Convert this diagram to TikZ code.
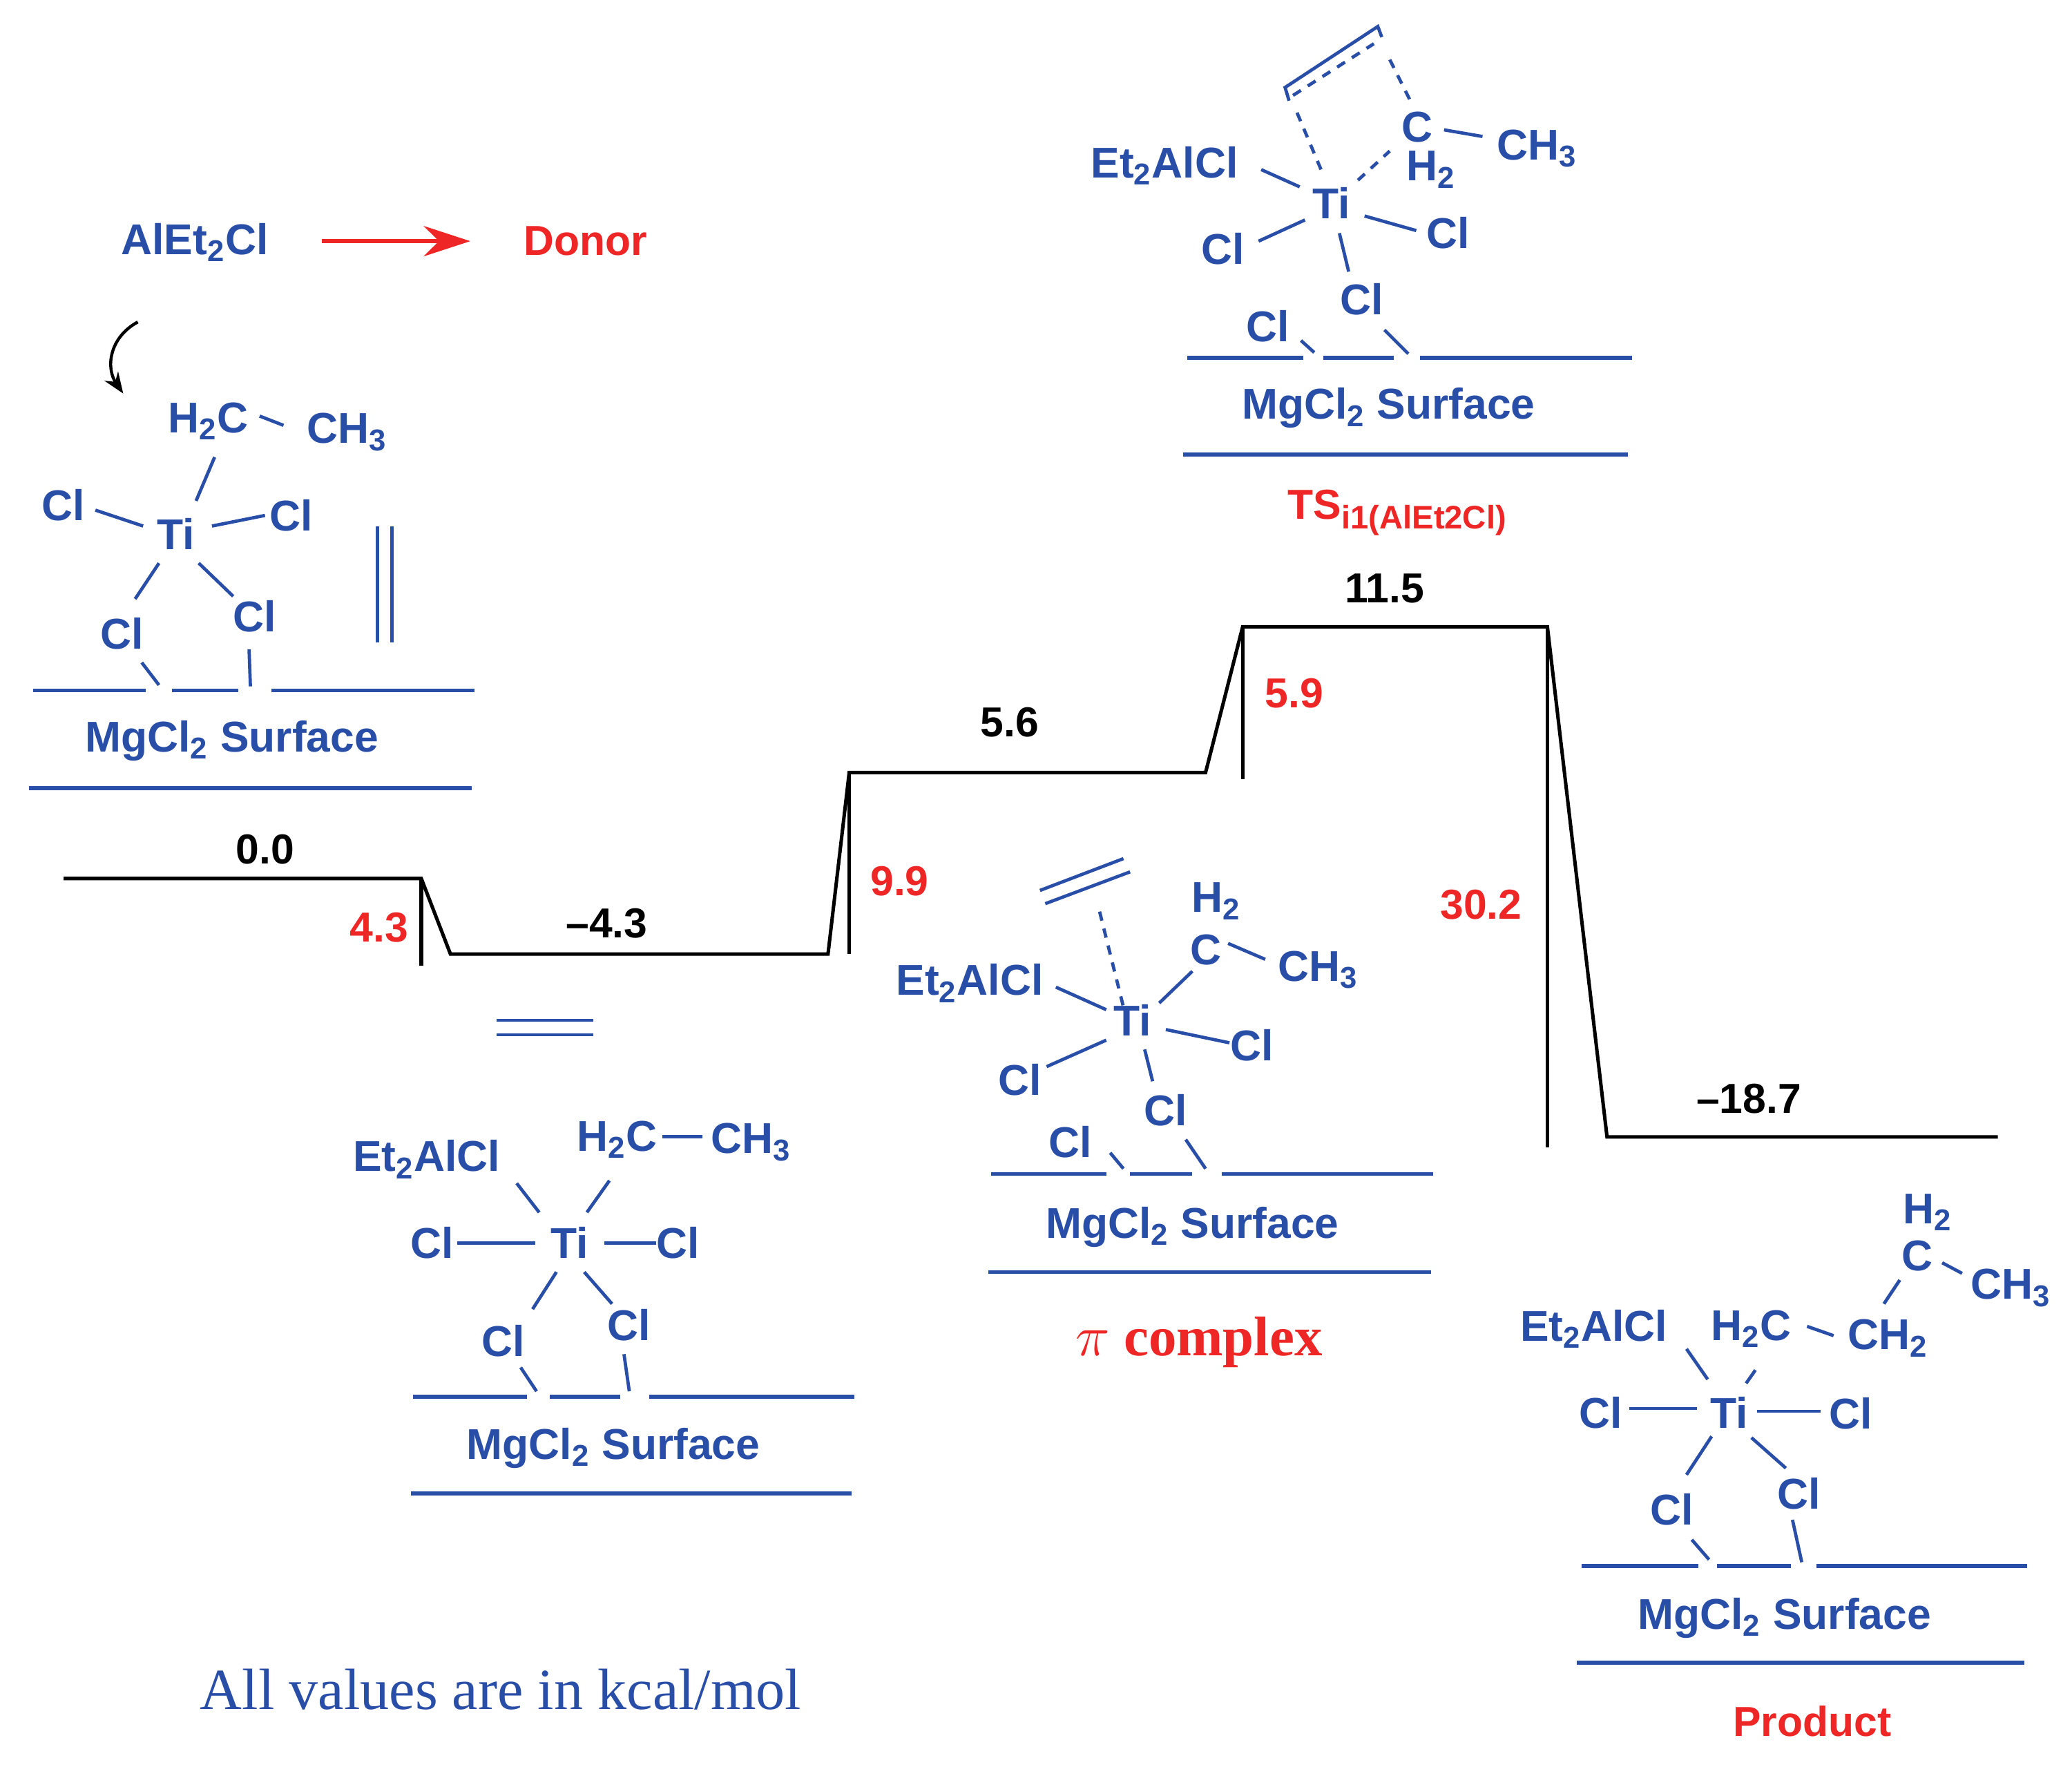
\documentclass[tikz,border=0pt]{standalone}
\usepackage{fontspec}
\setmainfont{Liberation Serif}
\setsansfont{Liberation Sans}
\usetikzlibrary{arrows.meta}
\definecolor{chemblue}{RGB}{40,78,168}
\definecolor{ered}{RGB}{238,38,38}
\newcommand{\chsub}[1]{\textsubscript{#1}}
\begin{document}
\begin{tikzpicture}[x=0.02cm,y=-0.02cm,
  chem/.style={font=\sffamily\bfseries\fontsize{18.5}{20}\selectfont,text=chemblue,inner sep=0pt},
  lab/.style={font=\sffamily\bfseries\fontsize{18}{20}\selectfont,text=black,inner sep=0pt},
  rlab/.style={font=\sffamily\bfseries\fontsize{18}{20}\selectfont,text=ered,inner sep=0pt},
  bond/.style={chemblue,line width=1.4pt},
  dbond/.style={chemblue,line width=1.4pt,dash pattern=on 4pt off 3.5pt},
  surf/.style={chemblue,line width=1.7pt},
  lev/.style={black,line width=1.5pt,line join=miter}]
\useasboundingbox (0,0) rectangle (1564,1333.5);
\fill[white] (0,0) rectangle (1564,1333.5);

% ---------- energy profile ----------
\coordinate (a0) at (48,663); \coordinate (a1) at (318,663);
\coordinate (b0) at (340,720); \coordinate (b1) at (625,720);
\coordinate (c0) at (641,583); \coordinate (c1) at (910,583);
\coordinate (d0) at (938,473); \coordinate (d1) at (1168,473);
\coordinate (e0) at (1213,858); \coordinate (e1) at (1508,858);
\coordinate (m1) at (318,729); \coordinate (m2) at (641,720);
\coordinate (m3) at (938,588); \coordinate (m4) at (1168,866);
\draw[lev] (a0) -- (a1) -- (b0) -- (b1) -- (c0) -- (c1) -- (d0) -- (d1) -- (e0) -- (e1);
\draw[lev] (a1) -- (m1); \draw[lev] (c0) -- (m2); \draw[lev] (d0) -- (m3); \draw[lev] (d1) -- (m4);
\node[lab] (l00) at (200,641) {0.0};
\node[rlab] (l43r) at (286,700) {4.3};
\node[lab] (l43) at (458,697) {--4.3};
\node[rlab] (l99) at (679,665) {9.9};
\node[lab] (l56) at (762,545) {5.6};
\node[rlab] (l59) at (977,523) {5.9};
\node[lab] (l115) at (1045,444) {11.5};
\node[rlab] (l302) at (1118,683) {30.2};
\node[lab] (l187) at (1320,829) {--18.7};

% ---------- top-left ----------
\node[chem] (alet) at (147,183) {AlEt\chsub{2}Cl};
\node[rlab] (donor) at (442,182) {Donor};
\draw[ered,line width=1.6pt,-{Stealth[length=20pt,width=13pt]}] (243,182) -- (355,182);
\draw[black,line width=1.3pt,-{Stealth[length=9pt,width=7pt]}] (104,243) .. controls (82,255) and (80,278) .. (93,297);

% ---------- structure 1 ----------
\node[chem] (s1h2c) at (157,318) {H\chsub{2}C};
\node[chem] (s1ch3) at (262,326) {CH\chsub{3}};
\draw[bond] (196,314) -- (214,321);
\node[chem] (s1ti) at (133,403) {Ti};
\node[chem] (s1cl1) at (48,381) {Cl};
\node[chem] (s1cl2) at (220,389) {Cl};
\node[chem] (s1cl3) at (92,478) {Cl};
\node[chem] (s1cl4) at (192,465) {Cl};
\draw[bond] (72,385) -- (108,397);
\draw[bond] (160,397) -- (200,389);
\draw[bond] (148,378) -- (162,345);
\draw[bond] (120,425) -- (102,452);
\draw[bond] (150,425) -- (176,450);
\draw[bond] (107,500) -- (120,517);
\draw[bond] (188,490) -- (189,518);
\draw[bond] (285,397) -- (285,485); \draw[bond] (296,397) -- (296,485);
\draw[surf] (25,521) -- (110,521) (130,521) -- (180,521) (205,521) -- (358,521);
\node[chem] (s1mg) at (175,559) {MgCl\chsub{2} Surface};
\draw[surf] (22,595) -- (356,595);

% ---------- structure 2 ----------
\draw[bond] (375,770) -- (448,770); \draw[bond] (375,781) -- (448,781);
\node[chem] (s2al) at (322,875) {Et\chsub{2}AlCl};
\node[chem] (s2h2c) at (466,860) {H\chsub{2}C};
\node[chem] (s2ch3) at (567,862) {CH\chsub{3}};
\draw[bond] (500,858) -- (530,858);
\node[chem] (s2ti) at (430,938) {Ti};
\node[chem] (s2cl1) at (326,938) {Cl};
\node[chem] (s2cl2) at (512,938) {Cl};
\node[chem] (s2cl3) at (380,1012) {Cl};
\node[chem] (s2cl4) at (475,1000) {Cl};
\draw[bond] (345,938) -- (404,938);
\draw[bond] (456,938) -- (495,938);
\draw[bond] (390,893) -- (407,915);
\draw[bond] (460,891) -- (443,915);
\draw[bond] (420,960) -- (402,988);
\draw[bond] (441,960) -- (462,984);
\draw[bond] (393,1032) -- (405,1050);
\draw[bond] (471,1022) -- (475,1050);
\draw[surf] (312,1054) -- (398,1054) (415,1054) -- (468,1054) (490,1054) -- (645,1054);
\node[chem] (s2mg) at (463,1093) {MgCl\chsub{2} Surface};
\draw[surf] (310,1127) -- (643,1127);

% ---------- structure 3 (pi complex) ----------
\draw[bond] (785,672) -- (848,648); \draw[bond] (789,682) -- (853,658);
\draw[dbond] (830,688) -- (848,760);
\node[chem] (s3h2) at (918,680) {H\chsub{2}};
\node[chem] (s3c) at (910,717) {C};
\node[chem] (s3ch3) at (995,732) {CH\chsub{3}};
\draw[bond] (927,712) -- (955,724);
\draw[bond] (875,757) -- (900,733);
\node[chem] (s3al) at (732,742) {Et\chsub{2}AlCl};
\draw[bond] (797,745) -- (835,762);
\node[chem] (s3ti) at (855,770) {Ti};
\node[chem] (s3cl1) at (945,789) {Cl};
\node[chem] (s3cl2) at (770,815) {Cl};
\node[chem] (s3cl3) at (880,838) {Cl};
\node[chem] (s3cl4) at (808,862) {Cl};
\draw[bond] (880,777) -- (928,787);
\draw[bond] (790,805) -- (835,785);
\draw[bond] (864,792) -- (870,816);
\draw[bond] (838,870) -- (848,882);
\draw[bond] (895,860) -- (910,882);
\draw[surf] (748,886) -- (835,886) (853,886) -- (900,886) (922,886) -- (1082,886);
\node[chem] (s3mg) at (900,926) {MgCl\chsub{2} Surface};
\draw[surf] (746,960) -- (1080,960);
\node[text=ered,font=\rmfamily\bfseries\fontsize{24}{26}\selectfont,inner sep=0pt] (pic) at (905,1013) {$\pi$ complex};

% ---------- structure 4 (TS) ----------
\draw[bond] (973,76) -- (970,66) -- (1040,20) -- (1043,28);
\draw[dbond] (976,72) -- (1037,33);
\draw[dbond] (979,85) -- (998,130);
\draw[dbond] (1049,45) -- (1064,75);
\draw[dbond] (1025,136) -- (1049,114);
\node[chem] (s4c) at (1070,96) {C};
\node[chem] (s4ch3) at (1160,112) {CH\chsub{3}};
\draw[bond] (1090,98) -- (1119,103);
\node[chem] (s4h2) at (1080,128) {H\chsub{2}};
\node[chem] (s4al) at (879,125) {Et\chsub{2}AlCl};
\draw[bond] (952,128) -- (981,141);
\node[chem] (s4ti) at (1005,153) {Ti};
\node[chem] (s4cl1) at (1093,176) {Cl};
\node[chem] (s4cl2) at (923,188) {Cl};
\node[chem] (s4cl3) at (1028,226) {Cl};
\node[chem] (s4cl4) at (957,246) {Cl};
\draw[bond] (1030,163) -- (1069,174);
\draw[bond] (950,182) -- (985,166);
\draw[bond] (1011,176) -- (1018,205);
\draw[bond] (982,257) -- (992,266);
\draw[bond] (1045,249) -- (1063,267);
\draw[surf] (896,270) -- (984,270) (999,270) -- (1052,270) (1072,270) -- (1232,270);
\node[chem] (s4mg) at (1048,308) {MgCl\chsub{2} Surface};
\draw[surf] (893,343) -- (1229,343);
\node[rlab] (ts) at (1055,387) {TS\textsubscript{\fontsize{14}{15}\selectfont i1(AlEt2Cl)}};

% ---------- structure 5 (product) ----------
\node[chem] (s5h2) at (1455,915) {H\chsub{2}};
\node[chem] (s5c) at (1447,948) {C};
\node[chem] (s5ch3) at (1518,972) {CH\chsub{3}};
\draw[bond] (1466,953) -- (1481,961);
\draw[bond] (1434,966) -- (1422,984);
\node[chem] (s5ch2) at (1425,1010) {CH\chsub{2}};
\node[chem] (s5h2c) at (1322,1003) {H\chsub{2}C};
\draw[bond] (1364,1001) -- (1384,1008);
\node[chem] (s5al) at (1203,1003) {Et\chsub{2}AlCl};
\node[chem] (s5ti) at (1305,1066) {Ti};
\node[chem] (s5cl1) at (1208,1066) {Cl};
\node[chem] (s5cl2) at (1397,1067) {Cl};
\node[chem] (s5cl3) at (1262,1139) {Cl};
\node[chem] (s5cl4) at (1358,1127) {Cl};
\draw[bond] (1230,1063) -- (1281,1063);
\draw[bond] (1326,1065) -- (1374,1065);
\draw[bond] (1273,1018) -- (1289,1041);
\draw[bond] (1325,1034) -- (1318,1044);
\draw[bond] (1292,1084) -- (1273,1113);
\draw[bond] (1322,1085) -- (1348,1108);
\draw[bond] (1277,1162) -- (1290,1177);
\draw[bond] (1353,1147) -- (1360,1179);
\draw[surf] (1194,1182) -- (1282,1182) (1296,1182) -- (1352,1182) (1371,1182) -- (1530,1182);
\node[chem] (s5mg) at (1347,1221) {MgCl\chsub{2} Surface};
\draw[surf] (1190,1255) -- (1528,1255);
\node[rlab] (prod) at (1368,1299) {Product};

% ---------- note ----------
\node[text=chemblue,font=\rmfamily\fontsize{25}{27}\selectfont,inner sep=0pt] (note) at (378,1275) {All values are in kcal/mol};
\end{tikzpicture}
\end{document}
